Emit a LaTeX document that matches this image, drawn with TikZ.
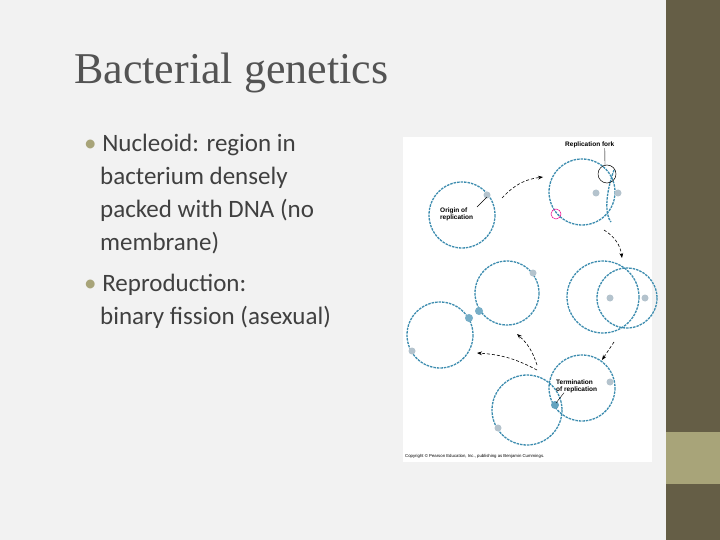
\documentclass[tikz,border=0pt]{standalone}
\usepackage{fontspec}
\setmainfont{Liberation Serif}
\newfontfamily\bodyfont{Carlito}
\newfontfamily\labfont{Liberation Sans}
\usetikzlibrary{arrows.meta}
\definecolor{bg}{RGB}{242,242,242}
\definecolor{bar}{RGB}{101,94,70}
\definecolor{barlt}{RGB}{168,164,121}
\definecolor{txt}{RGB}{64,64,64}
\definecolor{dna}{RGB}{60,140,175}
\definecolor{org}{RGB}{180,195,205}
\tikzset{
 dnaring/.style={draw=dna,line width=1.3pt,dash pattern=on 2.5pt off 1pt},
 lab/.style={font=\labfont\bfseries\fontsize{6.5}{7}\selectfont,align=left,inner sep=0pt},
 flow/.style={-{Stealth[length=5pt]},densely dashed,line width=0.6pt},
 bul/.style={font=\bodyfont\fontsize{25}{33}\selectfont,text=txt,anchor=north west,align=left,inner sep=0pt}
}
\begin{document}
\begin{tikzpicture}[x=1pt,y=-1pt]
\useasboundingbox (0,0) rectangle (720,540);
\fill[bg] (0,0) rectangle (720,540);
\fill[bar] (666,0) rectangle (720,540);
\fill[barlt] (666,432) rectangle (720,484);
\node[font=\fontsize{44}{48}\selectfont,text=txt!90,anchor=west,inner sep=0pt] (title) at (74,73) {Bacterial genetics};
\node[bul] (b1) at (84,134) {\textcolor{barlt}{•}\ Nucleoid: region in\\\hspace{16pt}bacterium densely\\\hspace{16pt}packed with DNA (no\\\hspace{16pt}membrane)};
\node[bul] (b2) at (84,274) {\textcolor{barlt}{•}\ Reproduction:\\\hspace{16pt}binary fission (asexual)};
\fill[white] (403,137) rectangle (652,462);
% circles
\coordinate (c1) at (462,215);
\draw[dnaring] (c1) circle[radius=33];
\fill[org] (487,195) circle[radius=3.5];
\coordinate (c2) at (582,192);
\draw[dnaring] (c2) circle[radius=33];
\draw[dnaring] (614,170) .. controls (605,195) and (605,215) .. (611,222);
\fill[org] (596,193) circle[radius=3.5]; \fill[org] (618,193) circle[radius=3.5];
\draw[black,line width=0.5pt] (607,174) circle[radius=9];
\draw[magenta,line width=0.5pt] (556,214) circle[radius=5];
\coordinate (c3) at (603,297);
\draw[dnaring] (c3) circle[radius=36];
\draw[dnaring] (627,298) circle[radius=30];
\fill[org] (610,298) circle[radius=3.5]; \fill[org] (645,298) circle[radius=3.5];
\coordinate (c4) at (507,293);
\draw[dnaring] (c4) circle[radius=32];
\fill[dna!70] (479,311) circle[radius=4]; \fill[org] (533,273) circle[radius=3.5];
\coordinate (c5) at (440,335);
\draw[dnaring] (c5) circle[radius=33];
\fill[dna!70] (469,318) circle[radius=4]; \fill[org] (412,351) circle[radius=3.5];
\coordinate (c6) at (527,410);
\draw[dnaring] (c6) circle[radius=35];
\coordinate (c7) at (582,388);
\draw[dnaring] (c7) circle[radius=33];
\fill[dna!80] (555,405) circle[radius=4]; \fill[org] (610,382) circle[radius=3.5]; \fill[org] (498,428) circle[radius=3.5];
% labels
\node[lab,anchor=west] (rf) at (565,145) {Replication fork};
\draw[line width=0.4pt] (rf.south) ++(15,0) -- (605,165);
\node[lab,anchor=west] (or) at (440,214) {Origin of\\replication};
\draw[line width=0.4pt] (477,207) -- (487,197);
\node[lab,anchor=west] (te) at (556,386) {Termination\\of replication};
\draw[line width=0.4pt] (te.south west) ++(8,0) -- (556,403);
\node[font=\labfont\fontsize{4.3}{5}\selectfont,anchor=west,inner sep=0pt] (cp) at (405,456) {Copyright \copyright{} Pearson Education, Inc., publishing as Benjamin Cummings.};
% arrows
\coordinate (a1) at (502,198); \coordinate (a2) at (543,177);
\draw[flow] (a1) to[bend left=20] (a2);
\coordinate (a3) at (604,230); \coordinate (a4) at (622,258);
\draw[flow] (a3) to[bend left=25] (a4);
\coordinate (a5) at (614,342); \coordinate (a6) at (602,360);
\draw[flow] (a5) -- (a6);
\coordinate (a7) at (537,365); \coordinate (a8) at (517,334);
\draw[flow] (a7) to[bend right=15] (a8);
\coordinate (a9) at (537,370); \coordinate (a10) at (477,353);
\draw[flow] (a9) to[bend right=12] (a10);
\end{tikzpicture}
\end{document}
